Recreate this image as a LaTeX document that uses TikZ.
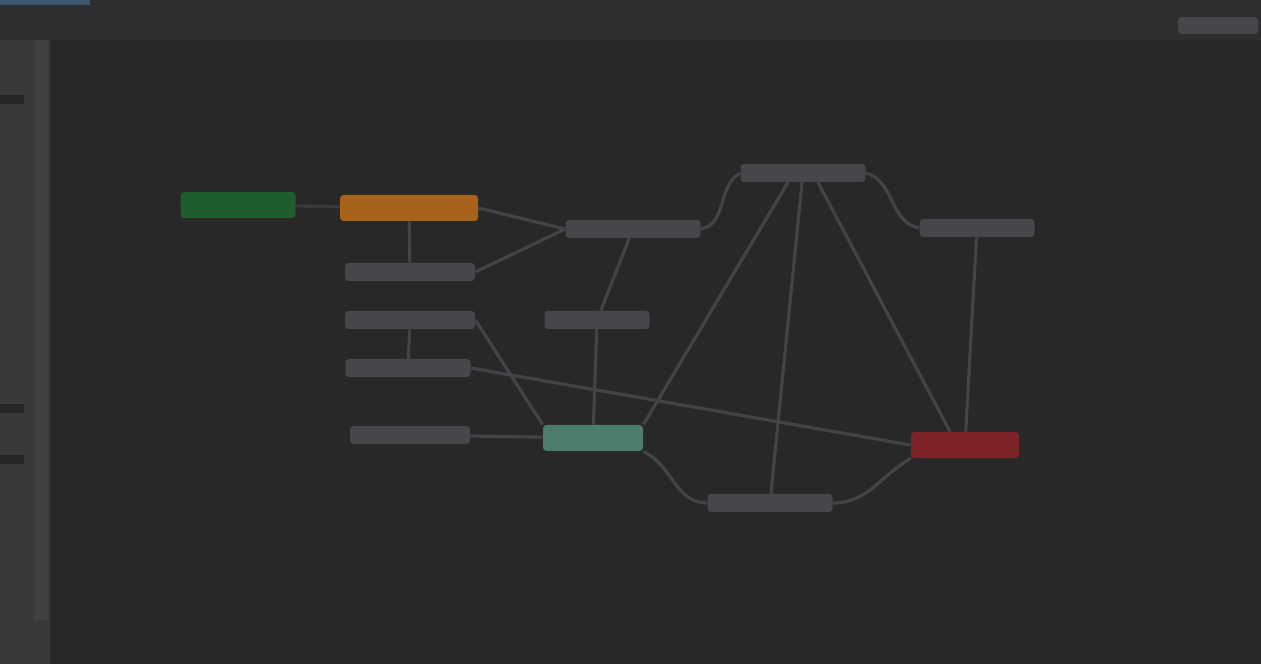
\documentclass[tikz,border=0pt]{standalone}
\usetikzlibrary{positioning}
\tikzset{>=stealth}
\definecolor{canvas}{HTML}{282828}
\definecolor{panel}{HTML}{2E2E2E}
\definecolor{sidebar}{HTML}{393939}
\definecolor{sidebarEdge}{HTML}{404040}
\definecolor{tabColor}{HTML}{3D5670}
\definecolor{wire}{HTML}{434447}
\definecolor{textGray}{HTML}{46474B}
\definecolor{startColor}{HTML}{1F5C2E}
\definecolor{sourceColor}{HTML}{A8621C}
\definecolor{mergeColor}{HTML}{4C7C6E}
\definecolor{sinkColor}{HTML}{7C2327}
\tikzset{
  bar/.style={rounded corners=2pt, inner sep=0pt, minimum height=3.6mm},
  blockbar/.style={bar, minimum height=5.2mm},
  link/.style={draw=wire, line width=1.8pt}
}
\begin{document}
\begin{tikzpicture}[x=0.2mm,y=-0.2mm]
				\fill[canvas] (0,0) rectangle (1261,664);
				\useasboundingbox (0,0) rectangle (1261,664);
				% window frame
				\fill[panel] (0,0) rectangle (1261,40);
				\fill[sidebar] (0,40) rectangle (50,664);
				\fill[sidebarEdge] (34,40) rectangle (48,620);
				\fill[tabColor] (0,0) rectangle (90,5);
				\fill[textGray, rounded corners=2pt] (1178,17) rectangle (1258,34);
				\fill[canvas!95!black] (0,95) rectangle (24,104);
				\fill[canvas!95!black] (0,404) rectangle (24,413);
				\fill[canvas!95!black] (0,455) rectangle (24,464);
				
				% nodes
				\node [blockbar, fill=startColor, minimum width=23mm] (start) at (238,205) {};
				\node [blockbar, fill=sourceColor, minimum width=27.6mm] (source) at (409,208) {};
				\node [bar, fill=textGray, minimum width=26mm] (fieldA) at (410,272) {};
				\node [bar, fill=textGray, minimum width=26mm] (fieldB) at (410,320) {};
				\node [bar, fill=textGray, minimum width=25mm] (fieldC) at (408,368) {};
				\node [bar, fill=textGray, minimum width=24mm] (fieldD) at (410,435) {};
				\node [bar, fill=textGray, minimum width=27mm] (joinA) at (633,229) {};
				\node [bar, fill=textGray, minimum width=21mm] (joinB) at (597,320) {};
				\node [blockbar, fill=mergeColor, minimum width=20mm] (merge) at (593,438) {};
				\node [bar, fill=textGray, minimum width=25mm] (hub) at (803,173) {};
				\node [bar, fill=textGray, minimum width=23mm] (side) at (977,228) {};
				\node [blockbar, fill=sinkColor, minimum width=21.6mm] (sink) at (965,445) {};
				\node [bar, fill=textGray, minimum width=25mm] (base) at (770,503) {};
				
				% connectors
				\draw[link, draw=wire!60!canvas] (start) -- (source);
				\draw[link] (source) -- (fieldA);
				\draw[link] (fieldB) -- (fieldC);
				\draw[link] (source.east) -- (joinA.west);
				\draw[link] (fieldA.east) -- (joinA.west);
				\draw[link] (fieldB.east) -- (merge.north west);
				\draw[link] (fieldC.east) -- (sink.west);
				\draw[link] (fieldD) -- (merge);
				\draw[link] (joinA) -- (joinB);
				\draw[link] (joinB) -- (merge);
				\draw[link] (joinA.east) to[out=10,in=210] (hub.west);
				\draw[link] (hub.east) to[out=-15,in=170] (side.west);
				\draw[link] (merge.north east) -- ([xshift=-3mm]hub.south);
				\draw[link] (hub) -- (base);
				\draw[link] ([xshift=3mm]hub.south) -- ([xshift=-3mm]sink.north);
				\draw[link] (side) -- (sink);
				\draw[link] (merge.south east) to[out=-25,in=180] (base.west);
				\draw[link] (base.east) to[out=0,in=-150] (sink.south west);
				\end{tikzpicture}
\end{document}
